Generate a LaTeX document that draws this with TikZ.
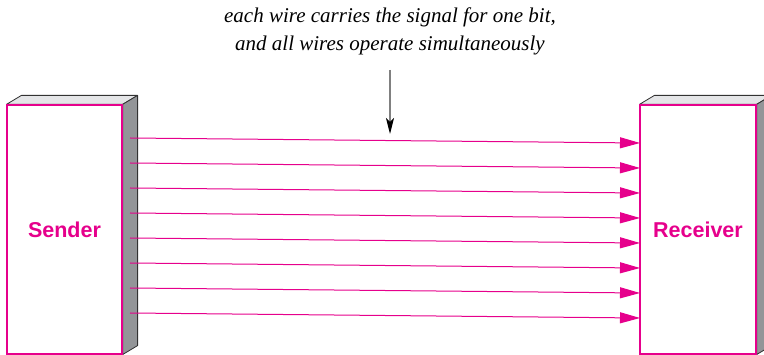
\documentclass[tikz,border=0pt]{standalone}
\usepackage{fontspec}
\setmainfont{Liberation Serif}
\setsansfont{Liberation Sans}
\usetikzlibrary{arrows.meta,calc}
\definecolor{mag}{RGB}{230,0,140}
\definecolor{topgray}{RGB}{228,229,231}
\definecolor{sidegray}{RGB}{147,149,152}
\definecolor{edge}{RGB}{50,50,50}
\tikzset{
  frontface/.style={draw=mag,line width=1.2pt,fill=white,inner sep=0pt,
    font=\sffamily\bfseries\fontsize{21.5}{24}\selectfont,text=mag},
  topface/.style={draw=edge,line width=0.8pt,fill=topgray,line join=round},
  sideface/.style={draw=edge,line width=0.8pt,fill=sidegray,line join=round},
  wire/.style={draw=mag,line width=1pt,-{Triangle[length=20pt,width=11pt]}},
  pointer/.style={draw=gray,line width=1.2pt,-{Stealth[length=16pt,width=8pt,inset=4pt,color=black]}},
  caption/.style={font=\itshape\fontsize{21}{28}\selectfont,align=center}
}
\begin{document}
\begin{tikzpicture}[x=1pt,y=-1pt]
\useasboundingbox (0,0) rectangle (764,355);
\clip (0,0) rectangle (764,355);
% boxes
\node[frontface,minimum width=115pt,minimum height=249pt] (sender) at (64.5,229.5) {};
\node[frontface,minimum width=116pt,minimum height=249pt] (receiver) at (698,229.5) {};
\foreach \b in {sender,receiver}{
  \draw[topface] (\b.north west) -- ++(15,-9) -- ($(\b.north east)+(15,-9)$) -- (\b.north east) -- cycle;
  \draw[sideface] (\b.north east) -- ++(15,-9) -- ($(\b.south east)+(15,-9)$) -- (\b.south east) -- cycle;
}
\node[frontface,minimum width=115pt,minimum height=249pt] (sender) at (64.5,229.5) {Sender};
\node[frontface,minimum width=116pt,minimum height=249pt] (receiver) at (698,229.5) {Receiver};
% wires
\foreach \i in {0,...,7}{
  \coordinate (s\i) at (130,138+25*\i);
  \coordinate (r\i) at (640,143+25*\i);
  \draw[wire] (s\i) -- (r\i);
}
% caption
\node[caption] (cap) at (390,31) {each wire carries the signal for one bit,\\and all wires operate simultaneously};
\coordinate (ptop) at (390,70);
\coordinate (pbot) at (390,134);
\draw[pointer] (ptop) -- (pbot);
\end{tikzpicture}
\end{document}
